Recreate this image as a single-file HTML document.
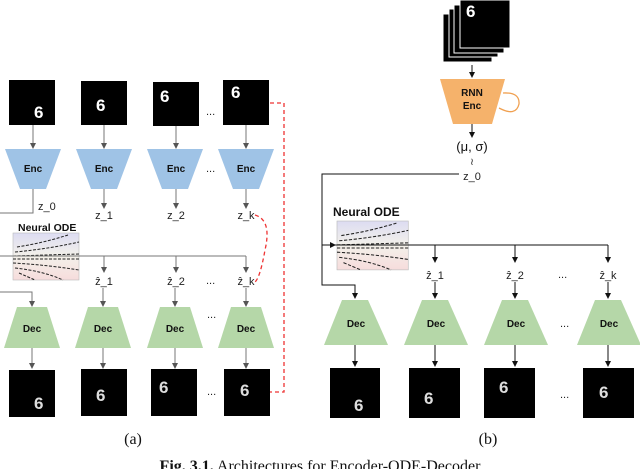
<!DOCTYPE html>
<html><head><meta charset="utf-8"><style>
html,body{margin:0;padding:0;background:#fff;width:640px;height:469px;overflow:hidden}
svg{display:block}
.l{font-family:"Liberation Sans",sans-serif;font-size:11px;fill:#222}
.b{font-family:"Liberation Sans",sans-serif;font-size:10px;font-weight:bold;fill:#111}
.s{font-family:"Liberation Serif",serif;font-size:16px;fill:#111}
.d{fill:#fff;font-family:"Liberation Sans",sans-serif;font-weight:bold;font-size:17px}
</style></head><body>
<svg width="640" height="469" viewBox="0 0 640 469" xmlns="http://www.w3.org/2000/svg">
<defs>
<marker id="a" markerWidth="6" markerHeight="6" refX="5" refY="3" orient="auto"><path d="M0,0 L6,3 L0,6 z" fill="#555"/></marker>
<marker id="k" markerWidth="6" markerHeight="6" refX="5" refY="3" orient="auto"><path d="M0,0 L6,3 L0,6 z" fill="#111"/></marker>
<linearGradient id="ode" x1="0" y1="0" x2="0" y2="1"><stop offset="0" stop-color="#dcdcf2"/><stop offset="0.5" stop-color="#f4f1ea"/><stop offset="1" stop-color="#f6dcdc"/></linearGradient>
<g id="odebox">
<rect x="0" y="0" width="66" height="47" fill="url(#ode)" stroke="#bbb" stroke-width="0.6"/>
<path d="M4,14 Q30,10 55,2 M2,19 Q35,16 66,9 M0,23 L66,21 M0,26 L66,26 M0,30 Q35,32 66,37 M2,35 Q30,38 50,47 M6,40 Q15,44 22,47" stroke="#222" stroke-width="1" fill="none" stroke-dasharray="3,1.5"/>
</g>
</defs>

<!-- (a) left panel -->
<g fill="#000">
<rect x="9" y="80" width="46" height="45"/><rect x="81" y="81" width="46" height="44"/><rect x="153" y="82" width="46" height="44"/><rect x="223" y="80" width="46" height="45"/>
</g>
<g class="d">
<text x="34" y="118">6</text><text x="96" y="111">6</text><text x="160" y="102">6</text><text x="231" y="98">6</text>
</g>
<g stroke="#777" stroke-width="1" marker-end="url(#a)">
<line x1="33" y1="125" x2="33" y2="148"/><line x1="104" y1="125" x2="104" y2="148"/><line x1="176" y1="126" x2="176" y2="148"/><line x1="246" y1="125" x2="246" y2="148"/>
</g>
<g fill="#9fc3e6">
<polygon points="5,149 61,149 46,189 20,189"/><polygon points="76,149 132,149 117,189 91,189"/><polygon points="147,149 203,149 188,189 162,189"/><polygon points="218,149 274,149 259,189 233,189"/>
</g>
<g class="b"><text x="33" y="172" text-anchor="middle">Enc</text><text x="104" y="172" text-anchor="middle">Enc</text><text x="176" y="172" text-anchor="middle">Enc</text><text x="246" y="172" text-anchor="middle">Enc</text></g>
<text class="l" x="206" y="172">...</text><text class="l" x="206" y="115">...</text>
<polyline points="33,189 33,213 0,213" stroke="#777" fill="none"/>
<text class="l" x="38" y="210">z_0</text>
<g stroke="#777" marker-end="url(#a)"><line x1="104" y1="189" x2="104" y2="208"/><line x1="176" y1="189" x2="176" y2="208"/><line x1="246" y1="189" x2="246" y2="208"/></g>
<g class="l" text-anchor="middle"><text x="104" y="219">z_1</text><text x="176" y="219">z_2</text><text x="246" y="219">z_k</text></g>
<text class="b" x="18" y="231" style="font-size:10.5px">Neural ODE</text>
<use href="#odebox" x="13" y="233"/>
<line x1="0" y1="256" x2="246" y2="256" stroke="#777"/>
<g stroke="#777" marker-end="url(#a)"><line x1="104" y1="256" x2="104" y2="272"/><line x1="176" y1="256" x2="176" y2="272"/><line x1="246" y1="256" x2="246" y2="272"/></g>
<g class="l" text-anchor="middle"><text x="104" y="285">ẑ_1</text><text x="176" y="285">ẑ_2</text><text x="246" y="285">ẑ_k</text></g>
<text class="l" x="206" y="284">...</text>
<polyline points="0,292 32,292 32,306" stroke="#777" fill="none" marker-end="url(#a)"/>
<g stroke="#777" marker-end="url(#a)"><line x1="103" y1="288" x2="103" y2="306"/><line x1="175" y1="288" x2="175" y2="306"/><line x1="246" y1="288" x2="246" y2="306"/></g>
<g fill="#b5d7a8">
<polygon points="17,307 47,307 60,348 4,348"/><polygon points="88,307 118,307 131,348 75,348"/><polygon points="160,307 190,307 203,348 147,348"/><polygon points="231,307 261,307 274,348 218,348"/>
</g>
<g class="b" text-anchor="middle"><text x="32" y="332">Dec</text><text x="103" y="332">Dec</text><text x="175" y="332">Dec</text><text x="246" y="332">Dec</text></g>
<text class="l" x="207" y="318">...</text>
<g stroke="#777" marker-end="url(#a)"><line x1="32" y1="348" x2="32" y2="368"/><line x1="103" y1="348" x2="103" y2="368"/><line x1="175" y1="348" x2="175" y2="368"/><line x1="246" y1="348" x2="246" y2="368"/></g>
<g fill="#000"><rect x="9" y="370" width="46" height="47"/><rect x="81" y="369" width="46" height="47"/><rect x="151" y="369" width="46" height="47"/><rect x="224" y="369" width="46" height="47"/></g>
<g class="d" style="fill:#ddd">
<text x="34" y="409">6</text><text x="96" y="401">6</text><text x="159" y="393">6</text><text x="240" y="396">6</text>
</g>
<text class="l" x="207" y="395">...</text>
<polyline points="270,103 284,103 284,392 270,392" stroke="#e33" stroke-width="1.3" fill="none" stroke-dasharray="4,3"/>
<path d="M255,215 Q272,220 265,250 Q260,278 255,282" stroke="#e33" stroke-width="1.3" fill="none" stroke-dasharray="4,3"/>

<!-- (b) right panel -->
<rect x="443" y="14" width="49" height="48" fill="#000" stroke="#fff" stroke-width="1"/>
<rect x="449" y="9" width="49" height="48" fill="#000" stroke="#fff" stroke-width="1"/>
<rect x="454" y="5" width="50" height="48" fill="#000" stroke="#fff" stroke-width="1"/>
<rect x="460" y="0" width="50" height="48" fill="#000" stroke="#fff" stroke-width="1"/>
<text x="466" y="17" class="d">6</text>
<line x1="472" y1="65" x2="472" y2="77" stroke="#111" marker-end="url(#k)"/>
<polygon points="440,79 505,79 492,124 453,124" fill="#f5b26b"/>
<text class="b" x="472" y="96" text-anchor="middle">RNN</text><text class="b" x="472" y="109" text-anchor="middle">Enc</text>
<path d="M503,93 Q520,92 519,104 Q516,117 499,108" stroke="#f0a050" stroke-width="1.3" fill="none"/>
<line x1="472" y1="124" x2="472" y2="137" stroke="#111" marker-end="url(#k)"/>
<text x="472" y="151" text-anchor="middle" style="font-family:'Liberation Sans',sans-serif;font-size:13px;fill:#111">(μ, σ)</text>
<text x="472" y="165" text-anchor="middle" class="l" style="font-size:10px">≀</text>
<text x="472" y="180" text-anchor="middle" class="l">z_0</text>
<polyline points="459,174 322,174 322,285 355,285 355,298" stroke="#111" fill="none" marker-end="url(#k)"/>
<text class="b" x="333" y="216" style="font-size:12px">Neural ODE</text>
<use href="#odebox" transform="translate(337 221) scale(1.08 1.04)"/>
<line x1="322" y1="245" x2="335" y2="245" stroke="#111" marker-end="url(#k)"/>
<line x1="335" y1="245" x2="608" y2="245" stroke="#111"/>
<g stroke="#111" marker-end="url(#k)"><line x1="435" y1="245" x2="435" y2="262"/><line x1="515" y1="245" x2="515" y2="262"/><line x1="608" y1="245" x2="608" y2="262"/></g>
<g class="l" text-anchor="middle"><text x="435" y="279">ẑ_1</text><text x="515" y="279">ẑ_2</text><text x="608" y="279">ẑ_k</text></g>
<text class="l" x="558" y="278">...</text>
<g stroke="#111" marker-end="url(#k)"><line x1="435" y1="282" x2="435" y2="298"/><line x1="515" y1="282" x2="515" y2="298"/><line x1="608" y1="282" x2="608" y2="298"/></g>
<g fill="#b5d7a8">
<polygon points="342,300 368,300 388,345 324,345"/><polygon points="422,300 448,300 468,345 404,345"/><polygon points="502,300 528,300 548,345 484,345"/><polygon points="595,300 621,300 641,345 577,345"/>
</g>
<g class="b" text-anchor="middle"><text x="356" y="327">Dec</text><text x="436" y="327">Dec</text><text x="516" y="327">Dec</text><text x="609" y="327">Dec</text></g>
<text class="l" x="560" y="327">...</text>
<g stroke="#111" marker-end="url(#k)"><line x1="355" y1="345" x2="355" y2="366"/><line x1="435" y1="345" x2="435" y2="366"/><line x1="515" y1="345" x2="515" y2="366"/><line x1="608" y1="345" x2="608" y2="366"/></g>
<g fill="#000"><rect x="330" y="368" width="50" height="50"/><rect x="409" y="368" width="51" height="50"/><rect x="484" y="368" width="51" height="50"/><rect x="583" y="368" width="51" height="50"/></g>
<g class="d" style="fill:#ddd">
<text x="354" y="411">6</text><text x="424" y="404">6</text><text x="499" y="393">6</text><text x="599" y="398">6</text>
</g>
<text class="l" x="560" y="398">...</text>

<text class="s" x="133" y="444" text-anchor="middle">(a)</text>
<text class="s" x="488" y="444" text-anchor="middle">(b)</text>
<text class="s" x="320" y="471" text-anchor="middle"><tspan font-weight="bold">Fig. 3.1.</tspan>  Architectures for Encoder-ODE-Decoder</text>
</svg>
</body></html>
